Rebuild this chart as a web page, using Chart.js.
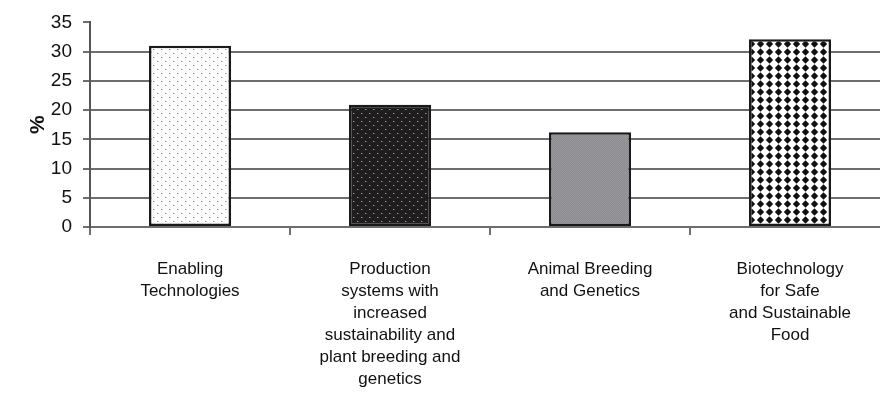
<!DOCTYPE html>
<html>
<head>
<meta charset="utf-8">
<script src="https://cdn.jsdelivr.net/npm/chart.js@4.4.0/dist/chart.umd.min.js"></script>
<style>
  html, body { margin: 0; padding: 0; background: #fff; overflow: hidden; }
  #wrap { width: 900px; height: 400px; }
</style>
</head>
<body>
<div id="wrap"><canvas id="myChart" width="900" height="400"></canvas></div>
<script>
// categories, one array per label (lines as in the figure)
let categories = [
  ["Enabling", "Technologies"],
  ["Production", "systems with", "increased", "sustainability and", "plant breeding and", "genetics"],
  ["Animal Breeding", "and Genetics"],
  ["Biotechnology", "for Safe", "and Sustainable", "Food"],
];
let percentValues = [31, 20.9, 16.2, 32.1];
let yTicks = [0, 5, 10, 15, 20, 25, 30, 35];

//make a small repeating canvas pattern
function makePattern(w, h, draw) {
  let c = document.createElement("canvas");
  c.width = w;
  c.height = h;
  let g = c.getContext("2d");
  draw(g);
  return g.createPattern(c, "repeat");
}

let lightDots = makePattern(8, 8, (g) => {
  g.fillStyle = "#fff";
  g.fillRect(0, 0, 8, 8);
  g.fillStyle = "#8f8f8f";
  g.fillRect(1, 1, 1, 1);
  g.fillRect(5, 5, 1, 1);
  g.fillStyle = "#d0d0d0";
  g.fillRect(2, 1, 1, 1);
  g.fillRect(6, 5, 1, 1);
});
let darkDots = makePattern(8, 8, (g) => {
  g.fillStyle = "#1f1d1e";
  g.fillRect(0, 0, 8, 8);
  g.fillStyle = "#9a9a9a";
  g.fillRect(1, 1, 1, 1);
  g.fillRect(5, 5, 1, 1);
  g.fillStyle = "#555";
  g.fillRect(2, 1, 1, 1);
  g.fillRect(6, 5, 1, 1);
});
let grayTexture = makePattern(2, 2, (g) => {
  g.fillStyle = "#8c8c90";
  g.fillRect(0, 0, 2, 2);
  g.fillStyle = "#98989c";
  g.fillRect(0, 0, 1, 1);
  g.fillRect(1, 1, 1, 1);
});
let diamonds = makePattern(9, 8, (g) => {
  g.fillStyle = "#fff";
  g.fillRect(0, 0, 9, 8);
  g.fillStyle = "#111";
  g.beginPath();
  g.moveTo(4.5, 0.2);
  g.lineTo(8.2, 4);
  g.lineTo(4.5, 7.8);
  g.lineTo(0.8, 4);
  g.closePath();
  g.fill();
});

let gridGray = "#6e6e6e";
let fontFamily = "'Liberation Sans', Arial, sans-serif";

let ctx = document.getElementById("myChart").getContext("2d");
let myChart = new Chart(ctx, {
  type: "bar",
  data: {
    labels: categories,
    datasets: [
      {
        data: percentValues,
        backgroundColor: [lightDots, darkDots, grayTexture, diamonds],
        borderColor: "#1a1a1a",
        borderWidth: 2.5,
        borderSkipped: false,
        barPercentage: 0.41,
        categoryPercentage: 1,
      },
    ],
  },
  options: {
    responsive: false,
    animation: false,
    layout: { padding: { top: 20, right: 10, left: 0, bottom: 0 } },
    plugins: { legend: { display: false }, tooltip: { enabled: false } },
    scales: {
      x: {
        afterFit: (scale) => { scale.height = 173; },
        grid: {
          offset: true,
          drawOnChartArea: false,
          drawTicks: true,
          tickLength: 8,
          tickColor: gridGray,
          lineWidth: 2,
        },
        border: { display: true, color: gridGray, width: 2 },
        ticks: {
          autoSkip: false,
          maxRotation: 0,
          minRotation: 0,
          padding: 23,
          color: "#111",
          font: { family: fontFamily, size: 17, lineHeight: 1.3 },
        },
      },
      y: {
        min: 0,
        max: 35,
        afterFit: (scale) => { scale.width = 90; },
        afterBuildTicks: (scale) => {
          scale.ticks = yTicks.map((v) => ({ value: v }));
        },
        grid: {
          color: (c) => (c.tick && c.tick.value === 35 ? "rgba(0,0,0,0)" : gridGray),
          tickColor: gridGray,
          tickLength: 7,
          lineWidth: 2,
        },
        border: { display: true, color: "#555", width: 2 },
        ticks: {
          padding: 11,
          color: "#111",
          font: { family: fontFamily, size: 19 },
        },
        title: {
          display: true,
          text: "%",
          color: "#111",
          padding: { top: 26, bottom: 0 },
          font: { family: fontFamily, size: 21, weight: "bold", lineHeight: 1.2 },
        },
      },
    },
  },
});
</script>
</body>
</html>
